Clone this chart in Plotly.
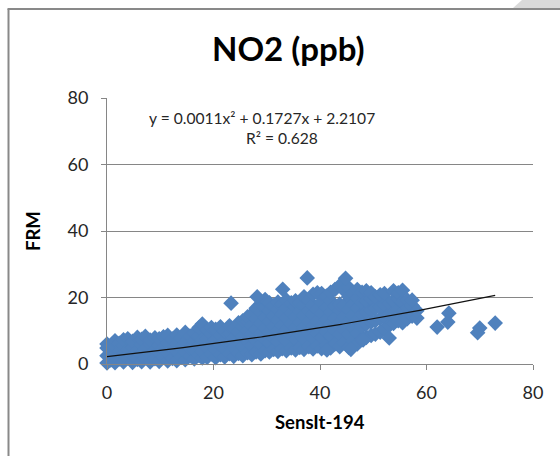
import numpy as np
import plotly.graph_objects as go

# ---------------- data ----------------
# dense cloud, grouped by SensIt-194 value: FRM readings at each
cloud_x = [0.0, 0.7, 1.5, 2.3, 3.1, 3.9, 4.8, 5.7, 6.5, 7.2, 8.1, 9.0, 9.8, 10.6,
           11.4, 12.3, 13.1, 14.0, 14.7, 15.6, 16.4, 17.3, 17.9,
           18.8, 19.6, 20.4, 21.3, 22.1, 23.0, 23.8, 24.7, 25.5, 26.4, 27.2,
           28.0, 28.9, 29.7,
           30.5, 31.3, 32.1, 32.9, 33.7, 34.6, 35.4, 36.2, 37.0, 37.9, 38.7,
           39.5, 40.3, 41.2, 42.0, 42.8, 43.7, 44.5, 45.4, 46.2, 47.0, 47.9,
           48.7, 49.6, 50.4, 51.3, 52.1, 53.0, 53.8, 54.7, 55.5, 56.4, 57.3, 58.2]
cloud_y = [
    [0.3, 2.5, 4.8, 6.0], [1.2, 3.6, 5.5], [0.4, 2.8, 5.2, 7.0], [1.5, 4.0, 6.2],
    [0.6, 3.0, 5.5, 7.3], [1.8, 4.4, 7.6], [0.5, 2.6, 5.0, 6.8], [1.4, 3.8, 8.0],
    [0.7, 3.2, 5.8, 7.4], [1.9, 4.5, 8.3], [0.6, 2.9, 6.0, 7.2], [1.6, 4.2, 7.9],
    [0.8, 3.5, 5.6, 7.6], [2.0, 4.8, 8.2], [0.9, 3.1, 6.3, 8.6], [1.7, 4.6, 7.5],
    [1.0, 3.8, 6.0, 8.7], [2.2, 5.2, 7.8], [1.3, 3.6, 6.5, 9.5], [2.4, 5.0, 8.4],
    [1.5, 4.2, 7.0, 9.3], [2.6, 5.6, 8.5, 11.0], [1.8, 4.0, 7.2, 12.0],
    [2.0, 4.8, 7.6, 10.2], [3.0, 6.0, 9.0, 11.0], [1.9, 4.3, 7.4, 10.4],
    [2.8, 5.6, 8.6, 11.2], [2.1, 4.6, 7.0, 9.9], [3.1, 6.2, 9.2, 11.5],
    [2.3, 5.0, 7.8, 10.6], [3.2, 6.4, 9.6, 12.4], [2.5, 5.2, 8.2, 11.3, 13.0],
    [3.4, 6.8, 10.0, 12.8, 14.2], [2.8, 5.6, 8.8, 11.6, 15.0],
    [3.6, 7.0, 10.4, 13.6, 16.8], [3.0, 6.0, 9.2, 12.2, 15.4, 18.0],
    [4.0, 7.4, 10.8, 14.0, 17.2, 19.4],
    [3.6, 6.4, 9.6, 12.8, 16.0, 18.4], [4.4, 7.8, 11.2, 14.4, 17.6],
    [3.8, 6.8, 10.0, 13.2, 16.4, 18.6], [4.6, 8.2, 11.6, 15.0, 18.0],
    [4.0, 7.0, 10.4, 13.8, 16.8, 19.2], [4.8, 8.6, 12.0, 15.4, 18.4],
    [4.2, 7.4, 10.8, 14.2, 17.2, 19.0], [5.0, 9.0, 12.4, 15.8, 18.6],
    [4.4, 7.6, 11.0, 14.6, 17.8, 20.2], [5.2, 9.2, 12.8, 16.2, 19.0],
    [4.5, 7.9, 11.4, 14.9, 17.6, 21.0], [5.4, 9.4, 13.0, 16.6, 21.4],
    [4.6, 8.0, 11.6, 15.2, 18.6, 21.2], [5.6, 9.6, 13.4, 17.0, 20.4],
    [4.8, 8.4, 12.0, 15.6, 19.0, 21.6], [6.0, 10.0, 13.8, 17.4, 22.4],
    [5.2, 8.8, 12.4, 16.0, 18.0, 23.6], [6.4, 10.4, 14.2, 17.6, 22.2],
    [5.0, 9.0, 12.8, 16.4, 20.2, 23.0], [7.0, 10.8, 14.6, 18.0, 21.2],
    [6.0, 9.4, 13.2, 16.8, 19.8, 22.4], [7.4, 11.2, 15.0, 18.4, 21.6],
    [8.0, 12.0, 15.6, 19.0, 22.0], [8.6, 12.6, 16.2, 19.6, 21.4],
    [9.0, 13.0, 16.8, 20.2], [9.6, 13.6, 17.2, 20.8], [10.4, 14.2, 17.8, 21.2],
    [11.6, 15.0, 18.4], [12.2, 15.8, 19.0, 22.0], [13.0, 16.4, 19.6, 21.4],
    [12.4, 15.8, 18.6, 22.2], [13.6, 16.8, 19.2], [14.4, 17.6, 19.2], [13.8, 16.0],
]
# isolated points
extra_x = [23.3, 28.2, 33.0, 37.6, 44.8, 41.3, 45.8, 48.1, 53.0,
           62.0, 64.2, 64.0, 70.0, 69.6, 72.9]
extra_y = [18.3, 20.2, 22.5, 25.9, 25.8, 4.2, 4.4, 7.2, 7.8,
           11.1, 15.3, 12.6, 10.8, 9.4, 12.3]

# polynomial trendline shown on the chart
trend_coef = [0.0011, 0.1727, 2.2107]   # a, b, c  ->  a x^2 + b x + c
trend_text = "y = 0.0011x² + 0.1727x + 2.2107"
r2_text = "R² = 0.628"

x_ticks = [0, 20, 40, 60, 80]
y_ticks = [0, 20, 40, 60, 80]

# ---------------- build ----------------
xs, ys = [], []
for xv, col in zip(cloud_x, cloud_y):
    for yv in col:
        xs.append(xv)
        ys.append(yv)
xs += extra_x
ys += extra_y

W, H = 560, 456
ML, MR, MT, MB = 107, 27, 98, 92
PW, PH = W - ML - MR, H - MT - MB


def px(xp):
    return (xp - ML) / PW


def py(yp):
    return (H - MB - yp) / PH


FONT = "Lato, 'Open Sans', sans-serif"
BLUE = "#4F81BD"
GRID = "#868686"

fig = go.Figure()
fig.add_trace(go.Scatter(
    x=xs, y=ys, mode="markers",
    marker=dict(symbol="diamond", size=12, color=BLUE, line=dict(width=0)),
    cliponaxis=False, showlegend=False, hoverinfo="x+y"))

tx = np.linspace(min(xs), max(xs), 200)
ty = trend_coef[0] * tx ** 2 + trend_coef[1] * tx + trend_coef[2]
fig.add_trace(go.Scatter(x=tx, y=ty, mode="lines",
                         line=dict(color="#111111", width=1.2),
                         showlegend=False, hoverinfo="skip"))

fig.update_layout(
    width=W, height=H,
    margin=dict(l=ML, r=MR, t=MT, b=MB, pad=0),
    paper_bgcolor="white", plot_bgcolor="white",
    font=dict(family=FONT, color="#262626"),
    xaxis=dict(range=[0, 80], tickvals=x_ticks, showgrid=False, zeroline=False,
               showline=True, linecolor=GRID, linewidth=1,
               ticks="outside", ticklen=5, tickcolor=GRID,
               tickfont=dict(size=18, family=FONT, color="#262626"),
               ticklabelstandoff=7),
    yaxis=dict(range=[0, 80], tickvals=y_ticks, showgrid=True, gridcolor=GRID,
               gridwidth=1, zeroline=False,
               showline=True, linecolor=GRID, linewidth=1,
               ticks="outside", ticklen=5, tickcolor=GRID,
               tickfont=dict(size=18, family=FONT, color="#262626"),
               ticklabelstandoff=9),
    annotations=[
        dict(text="<b>NO2 (ppb)</b>", x=px(288), y=py(48), xref="paper", yref="paper",
             showarrow=False, xanchor="center", yanchor="middle",
             font=dict(size=33, family=FONT, color="black")),
        dict(text="<b>SensIt-194</b>", x=px(320), y=py(422), xref="paper", yref="paper",
             showarrow=False, xanchor="center", yanchor="middle",
             font=dict(size=18.5, family=FONT, color="black")),
        dict(text="<b>FRM</b>", x=px(33), y=py(231), xref="paper", yref="paper",
             showarrow=False, xanchor="center", yanchor="middle", textangle=-90,
             font=dict(size=18.5, family=FONT, color="black")),
        dict(text=trend_text, x=px(262), y=py(118), xref="paper", yref="paper",
             showarrow=False, xanchor="center", yanchor="middle",
             font=dict(size=15.6, family=FONT, color="#262626")),
        dict(text=r2_text, x=px(282), y=py(138), xref="paper", yref="paper",
             showarrow=False, xanchor="center", yanchor="middle",
             font=dict(size=15.6, family=FONT, color="#262626")),
    ],
    shapes=[
        dict(type="line", xref="paper", yref="paper", x0=px(8.5), x1=px(8.5),
             y0=py(9), y1=py(H + 2), line=dict(color="#898989", width=2)),
        dict(type="line", xref="paper", yref="paper", x0=px(7.5), x1=px(W + 2),
             y0=py(9), y1=py(9), line=dict(color="#898989", width=2)),
        dict(type="path", xref="paper", yref="paper",
             path=f"M {px(513)},{py(8)} L {px(522)},{py(0)} L {px(W)},{py(0)} "
                  f"L {px(W)},{py(8)} Z",
             fillcolor="#d9d9d9", line=dict(width=0)),
    ],
)

fig.write_html("out.html",
               config={"displayModeBar": False},
               post_script="document.body.style.margin='0px';"
                           "document.body.style.overflow='hidden';")
